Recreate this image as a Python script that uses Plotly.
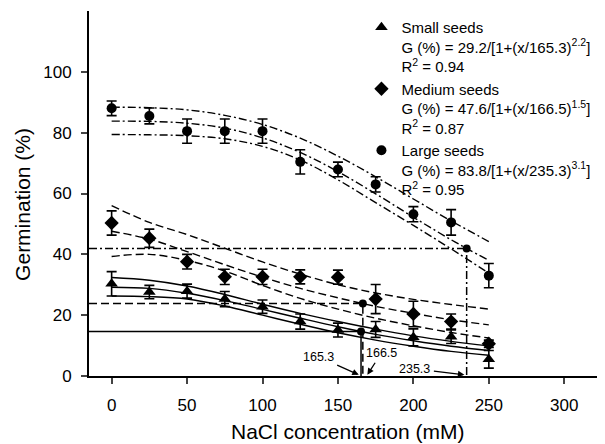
import plotly.graph_objects as go

# ---------------- data ----------------
conc = [0, 25, 50, 75, 100, 125, 150, 175, 200, 225, 250]

small_y = [30.3, 27.6, 27.9, 25.3, 22.8, 17.9, 15.1, 15.3, 12.7, 12.9, 5.5]
small_err = [4.0, 2.2, 2.3, 2.5, 2.2, 2.5, 2.3, 2.6, 2.8, 2.2, 2.9]
medium_y = [50.3, 45.3, 37.6, 32.6, 32.6, 32.6, 32.5, 25.3, 20.4, 17.9, 10.6]
medium_err = [4.0, 3.0, 2.4, 2.5, 2.5, 2.3, 2.3, 4.8, 4.2, 2.5, 1.2]
large_y = [88.0, 85.5, 80.5, 80.5, 80.5, 70.4, 67.9, 63.0, 53.2, 50.5, 33.0]
large_err = [2.4, 2.6, 4.0, 4.0, 4.0, 4.0, 2.4, 2.5, 2.5, 4.2, 4.0]

# fitted curves and their bands (sampled every 25 mM)
small_fit = [29.2, 28.8, 27.2, 24.8, 21.9, 19.0, 16.2, 13.7, 11.6, 9.8, 8.4]
small_hi = [32.4, 31.5, 29.6, 26.8, 23.6, 20.6, 17.9, 15.4, 13.2, 11.4, 9.9]
small_lo = [26.3, 26.1, 25.3, 23.0, 20.0, 17.0, 14.2, 11.8, 9.8, 8.1, 6.8]
medium_fit = [47.6, 45.0, 40.9, 36.6, 32.5, 28.8, 25.7, 22.9, 20.6, 18.5, 16.8]
medium_hi = [56.0, 50.5, 46.5, 42.0, 37.5, 33.5, 30.0, 27.3, 25.2, 23.5, 22.0]
medium_lo = [39.3, 40.0, 38.0, 34.5, 29.8, 25.5, 22.0, 19.0, 16.5, 14.3, 12.5]
large_fit = [83.8, 83.7, 83.1, 81.5, 78.3, 73.5, 67.2, 59.9, 52.2, 44.8, 38.0]
large_hi = [88.4, 88.2, 87.5, 85.7, 82.7, 78.2, 72.3, 65.5, 58.2, 51.0, 44.2]
large_lo = [79.4, 79.3, 79.0, 78.0, 75.5, 71.0, 64.5, 57.0, 49.5, 41.8, 33.8]

# half-maximum points (x50, G/2)
half_x = [165.3, 166.5, 235.3]
half_y = [14.6, 23.8, 41.9]
half_labels = ["165.3", "166.5", "235.3"]

legend_names = [
    "Small seeds<br>G (%) = 29.2/[1+(x/165.3)<sup>2.2</sup>]<br>R<sup>2</sup> = 0.94",
    "Medium seeds<br>G (%) = 47.6/[1+(x/166.5)<sup>1.5</sup>]<br>R<sup>2</sup> = 0.87",
    "Large seeds<br>G (%) = 83.8/[1+(x/235.3)<sup>3.1</sup>]<br>R<sup>2</sup> = 0.95",
]

x_range = [-15, 327]
y_range = [0, 120]
x_ticks = [0, 50, 100, 150, 200, 250, 300]
y_ticks = [0, 20, 40, 60, 80, 100]

FONT = "Liberation Sans, Arial, sans-serif"
BLACK = "#000000"
DASH = "8px,4px"
DASHDOT = "8px,3px,2px,3px"

fig = go.Figure()

# fitted curves + bands
curve_sets = [
    (small_fit, small_hi, small_lo, "solid"),
    (medium_fit, medium_hi, medium_lo, DASH),
    (large_fit, large_hi, large_lo, DASHDOT),
]
for fit, hi, lo, dash in curve_sets:
    for ys in (hi, fit, lo):
        fig.add_trace(go.Scatter(
            x=conc, y=ys, mode="lines",
            line=dict(color=BLACK, width=1.4, dash=dash, shape="spline", smoothing=1.0),
            showlegend=False, hoverinfo="skip"))

# half-max reference lines
ref_dash = ["solid", DASH, DASHDOT]
for hx, hy, d in zip(half_x, half_y, ref_dash):
    fig.add_trace(go.Scatter(
        x=[x_range[0], hx, hx], y=[hy, hy, y_range[0]], mode="lines",
        line=dict(color=BLACK, width=1.5, dash=d),
        showlegend=False, hoverinfo="skip"))

fig.add_trace(go.Scatter(
    x=half_x, y=half_y, mode="markers",
    marker=dict(symbol="circle", size=8, color=BLACK),
    showlegend=False, hoverinfo="skip"))

# data points with error bars
series = [
    (small_y, small_err, "triangle-up", 11),
    (medium_y, medium_err, "diamond", 11),
    (large_y, large_err, "circle", 10),
]
for (ys, err, sym, size), name in zip(series, legend_names):
    fig.add_trace(go.Scatter(
        x=conc, y=ys, mode="markers",
        marker=dict(symbol=sym, size=size, color=BLACK),
        error_y=dict(type="data", array=err, visible=True, color=BLACK,
                     thickness=1.6, width=5),
        name=name, showlegend=True))

# arrows to the x50 values
label_pos = [(137, 6.3), (179, 7.7), (201, 2.4)]
head_pos = [(163.8, 0.4), (169.5, 0.4), (233.8, 0.4)]
for lab, (tx, ty), (hx, hy) in zip(half_labels, label_pos, head_pos):
    fig.add_annotation(
        x=hx, y=hy, ax=tx, ay=ty, xref="x", yref="y", axref="x", ayref="y",
        text=lab, showarrow=True, arrowhead=2, arrowsize=1.0, arrowwidth=1.3,
        arrowcolor=BLACK, standoff=0, startstandoff=2,
        font=dict(family=FONT, size=12.5, color=BLACK))

# axis titles (placed as in the reference)
fig.add_annotation(
    text="Germination (%)", textangle=-90, xref="paper", yref="paper",
    x=-0.129, y=0.47, xanchor="center", yanchor="middle", showarrow=False,
    font=dict(family=FONT, size=21, color=BLACK))
fig.add_annotation(
    text="NaCl concentration (mM)", xref="paper", yref="paper",
    x=0.5, y=-0.151, xanchor="center", yanchor="middle", showarrow=False,
    font=dict(family=FONT, size=21, color=BLACK))

# page body adds an 8 px offset; the figure is sized so the plot lands where the reference has it
fig.update_layout(
    width=597, height=436,
    margin=dict(l=81, r=0, t=3, b=68, autoexpand=False),
    paper_bgcolor="white", plot_bgcolor="white",
    font=dict(family=FONT, color=BLACK),
    showlegend=True,
    legend=dict(x=0.528, y=1.0, xanchor="left", yanchor="top",
                valign="top", bgcolor="rgba(0,0,0,0)", borderwidth=0,
                font=dict(family=FONT, size=15, color=BLACK),
                tracegroupgap=0, itemwidth=30),
)
fig.update_xaxes(
    range=x_range, tickvals=x_ticks, ticks="outside", ticklen=6, tickwidth=1.5,
    showline=True, linewidth=1.8, linecolor=BLACK, showgrid=False, zeroline=False,
    tickfont=dict(family=FONT, size=17, color=BLACK), ticklabelstandoff=7,
    automargin=False)
fig.update_yaxes(
    range=y_range, tickvals=y_ticks, ticks="outside", ticklen=6, tickwidth=1.5,
    showline=True, linewidth=1.8, linecolor=BLACK, showgrid=False, zeroline=False,
    tickfont=dict(family=FONT, size=17, color=BLACK), ticklabelstandoff=6,
    automargin=False)

fig.write_html("out.html")
